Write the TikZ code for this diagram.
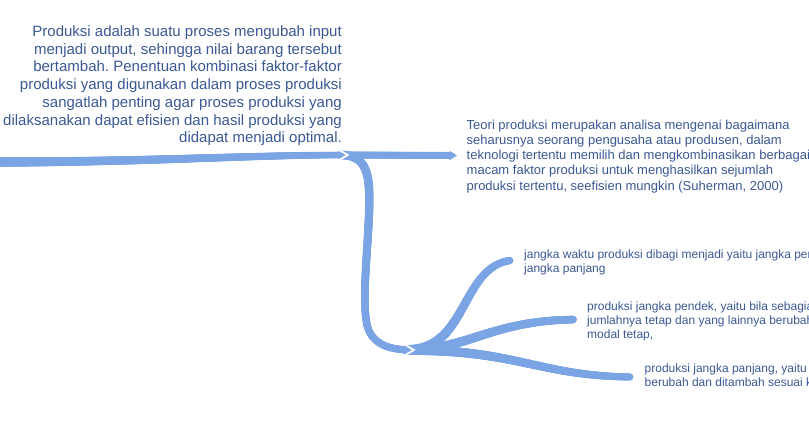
\documentclass[tikz,border=0pt]{standalone}
\usepackage{fontspec}
\setmainfont{Liberation Sans}
\usetikzlibrary{decorations.markings}
\definecolor{bcol}{RGB}{122,164,227}
\definecolor{tcol}{RGB}{58,88,148}
\tikzset{
  branch/.style n args={3}{decoration={markings,
     mark=between positions 0 and -7.5pt step 0.6pt with {\pgfmathsetmacro\rr{#1+(#2-(#1))*\pgfkeysvalueof{/pgf/decoration/mark info/distance from start}/\pgfdecoratedpathlength}\fill[bcol] (0pt,0pt) circle[radius=\rr pt];},
     mark=at position 1 with {\fill[bcol] (-7.5pt,#3pt) -- (0pt,0pt) -- (-7.5pt,-#3pt) -- cycle;}},
     decorate},
  notch/.style={draw=white, line width=1.8pt, line join=miter},
  bigtext/.style={text=tcol, inner sep=0pt, font=\fontsize{15}{18}\selectfont},
  midtext/.style={text=tcol, inner sep=0pt, font=\fontsize{13}{15}\selectfont},
  smalltext/.style={text=tcol, inner sep=0pt, font=\fontsize{12}{14}\selectfont}
}
\begin{document}
\frenchspacing
\begin{tikzpicture}[x=1pt,y=-1pt]
\useasboundingbox (0,0) rectangle (809,425);
% junctions and ends
\coordinate (S0) at (-8,162);
\coordinate (J1) at (347,155);
\coordinate (J1s) at (341,155);
\coordinate (T1) at (457,155.5);
\coordinate (J2) at (413,350);
\coordinate (J2s) at (407,350);
\coordinate (EA) at (517,260);
\coordinate (EB) at (580,319.5);
\coordinate (EC) at (636,377);
% lower branches
\path[branch={5}{3.6}{4.8}] (J2s) .. controls (470,350) and (460,260) .. (EA);
\path[branch={5}{3.8}{5}] (J2s) .. controls (470,350) and (490,319.5) .. (EB);
\path[branch={5}{3.5}{4.8}] (J2s) .. controls (520,350) and (540,377) .. (EC);
% vertical branch
\path[branch={4.4}{3.6}{4.8}] (J1s) .. controls (370,155) and (370,180) .. (369,215)
   .. controls (367,260) and (362,300) .. (367,325)
   .. controls (372,345) and (390,350) .. (J2);
\path[notch] ([shift={(-7.5,-5)}]J2) -- ([shift={(0.8,0)}]J2) -- ([shift={(-7.5,5)}]J2);
% top right branch
\path[branch={3.5}{3.5}{4.8}] (J1s) -- (T1);
% trunk
\path[branch={4.8}{3.2}{4.6}] (S0) .. controls (150,162) and (250,155) .. (J1);
\path[notch] ([shift={(-7.5,-4.8)}]J1) -- ([shift={(0.8,0)}]J1) -- ([shift={(-7.5,4.8)}]J1);
% texts
\foreach \t [count=\i] in {Produksi adalah suatu proses mengubah input,
  {menjadi output, sehingga nilai barang tersebut},
  bertambah. Penentuan kombinasi faktor-faktor,
  produksi yang digunakan dalam proses produksi,
  sangatlah penting agar proses produksi yang,
  dilaksanakan dapat efisien dan hasil produksi yang,
  didapat menjadi optimal.}
  \node[bigtext, anchor=base east] (L\i) at (342,{36.5+17.75*(\i-1)}) {\t};
\foreach \t [count=\i] in {Teori produksi merupakan analisa mengenai bagaimana,
  {seharusnya seorang pengusaha atau produsen, dalam},
  teknologi tertentu memilih dan mengkombinasikan berbagai,
  macam faktor produksi untuk menghasilkan sejumlah,
  {produksi tertentu, seefisien mungkin (Suherman, 2000)}}
  \node[midtext, anchor=base west] (R\i) at (466.5,{130+15*(\i-1)}) {\t};
\foreach \t [count=\i] in {jangka waktu produksi dibagi menjadi yaitu jangka pendek dan,
  jangka panjang}
  \node[smalltext, anchor=base west] (A\i) at (524,{258+14*(\i-1)}) {\t};
\foreach \t [count=\i] in {{produksi jangka pendek, yaitu bila sebagian faktor produksi},
  {jumlahnya tetap dan yang lainnya berubah, misalnya},
  {modal tetap,}}
  \node[smalltext, anchor=base west] (B\i) at (587,{310+14*(\i-1)}) {\t};
\foreach \t [count=\i] in {{produksi jangka panjang, yaitu semua faktor produksi},
  berubah dan ditambah sesuai kebutuhan}
  \node[smalltext, anchor=base west] (C\i) at (644.5,{372+14*(\i-1)}) {\t};
\end{tikzpicture}
\end{document}
